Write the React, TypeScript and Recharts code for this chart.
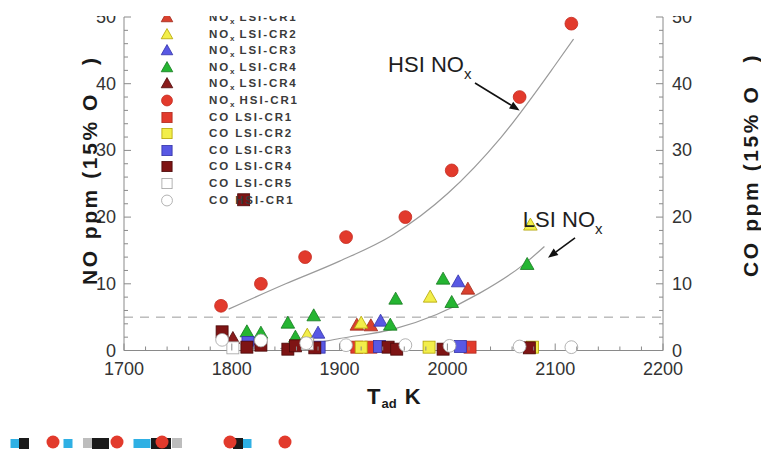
import React from "react";
import { Legend, ReferenceDot, ReferenceLine, Scatter, ScatterChart, XAxis, YAxis } from "recharts";

const FONT = '"Liberation Sans", Arial, Helvetica, sans-serif';
const AXIS_C = "#8a8a8a";
const TXT = "#333";

type Pt = [number, number];

// NOx ppm (15% O2) vs adiabatic flame temperature, K
const NOX_LSI_CR1: Pt[] = [[1916, 3.8], [1929, 3.7], [2019, 9.2]];
const NOX_LSI_CR2: Pt[] = [[1870, 2.3], [1920, 4.1], [1984, 8.0], [2077, 18.8]];
const NOX_LSI_CR3: Pt[] = [[1815, 1.6], [1880, 2.6], [1938, 4.4], [2010, 10.3]];
const NOX_LSI_CR4: Pt[] = [
  [1814, 2.8], [1827, 2.6], [1852, 4.1], [1859, 2.0], [1876, 5.2],
  [1947, 3.8], [1952, 7.7], [1996, 10.7], [2004, 7.2], [2074, 12.9],
];
const NOX_LSI_CR4B: Pt[] = [[1801, 1.8]];
const NOX_HSI_CR1: Pt[] = [[1790, 6.7], [1827, 10], [1868, 14], [1906, 17], [1961, 20], [2004, 27], [2067, 38], [2115, 49]];

// CO ppm (15% O2), right axis
const CO_LSI_CR1: Pt[] = [[1916, 0.5], [1929, 0.5], [2021, 0.5]];
const CO_LSI_CR2: Pt[] = [[1920, 0.5], [1983, 0.5], [2079, 0.5]];
const CO_LSI_CR3: Pt[] = [[1815, 1.2], [1881, 0.5], [1937, 0.6], [2012, 0.6]];
const CO_LSI_CR4: Pt[] = [
  [1791, 2.8], [1811, 22.6], [1814, 0.5], [1827, 0.8], [1852, 0.2], [1859, 0.7],
  [1877, 0.4], [1945, 0.5], [1953, 0.2], [1996, 0.2], [2076, 0.4],
];
const CO_LSI_CR5: Pt[] = [[1801, 0.4], [1870, 1.0]];
const CO_HSI_CR1: Pt[] = [[1791, 1.6], [1827, 1.5], [1869, 1.1], [1906, 0.8], [1961, 0.8], [2002, 0.7], [2067, 0.6], [2115, 0.5]];

// trend curves as drawn in the figure
const HSI_FIT: Pt[] = [[1797, 6.2], [1850, 10.0], [1900, 13.4], [1950, 17.4], [2000, 23.5], [2050, 32.0], [2100, 42.8], [2117, 46.7]];
const LSI_FIT: Pt[] = [[1845, 0.3], [1870, 0.9], [1900, 1.8], [1950, 3.2], [1990, 5.4], [2030, 8.6], [2070, 12.8], [2090, 15.6]];

const X_TICKS = [
  1700, 1720, 1740, 1760, 1780, 1800, 1820, 1840, 1860, 1880, 1900, 1920, 1940,
  1960, 1980, 2000, 2020, 2040, 2060, 2080, 2100, 2120, 2140, 2160, 2180, 2200,
];
const Y_TICKS = [0, 2, 4, 6, 8, 10, 12, 14, 16, 18, 20, 22, 24, 26, 28, 30, 32, 34, 36, 38, 40, 42, 44, 46, 48, 50];

// garbled strip of markers under the figure (x in px)
const STRIP_RED = [53, 117, 162, 230, 285];
const STRIP_BLUE = [15, 68, 138, 146, 247];
const STRIP_BLACK = [24, 97, 104, 156, 166, 238];
const STRIP_GRAY = [88, 177];

const RED = "#e23a2c";
const YEL = "#f2ee4a";
const BLUE = "#5858e4";
const GREEN = "#25b532";
const DARK = "#7e1414";

const xy = (a: readonly Pt[]) => a.map(([x, y]) => ({ x, y }));

type Kind = "tri" | "circ" | "sq";
function mark(kind: Kind, fill: string, stroke: string, cx: number, cy: number, s = 1) {
  if (kind === "tri")
    return (
      <polygon
        points={`${cx},${cy - 7 * s} ${cx + 6.8 * s},${cy + 5 * s} ${cx - 6.8 * s},${cy + 5 * s}`}
        fill={fill}
        stroke={stroke}
        strokeWidth={0.8}
      />
    );
  if (kind === "circ") return <circle cx={cx} cy={cy} r={6.4 * s} fill={fill} stroke={stroke} strokeWidth={0.8} />;
  return <rect x={cx - 6 * s} y={cy - 6 * s} width={12 * s} height={12 * s} fill={fill} stroke={stroke} strokeWidth={0.8} />;
}

type Ser = { pre: string; sub: string; post: string; kind: Kind; fill: string; stroke: string; data: Pt[]; axis: string };
const SERIES: Ser[] = [
  { pre: "NO", sub: "x", post: " LSI-CR1", kind: "tri", fill: "#d9412e", stroke: "#a02a1c", data: NOX_LSI_CR1, axis: "l" },
  { pre: "NO", sub: "x", post: " LSI-CR2", kind: "tri", fill: YEL, stroke: "#b3a300", data: NOX_LSI_CR2, axis: "l" },
  { pre: "NO", sub: "x", post: " LSI-CR3", kind: "tri", fill: BLUE, stroke: "#3232a8", data: NOX_LSI_CR3, axis: "l" },
  { pre: "NO", sub: "x", post: " LSI-CR4", kind: "tri", fill: GREEN, stroke: "#147a1e", data: NOX_LSI_CR4, axis: "l" },
  { pre: "NO", sub: "x", post: " LSI-CR4", kind: "tri", fill: "#8a1c1c", stroke: "#4e0a0a", data: NOX_LSI_CR4B, axis: "l" },
  { pre: "NO", sub: "x", post: " HSI-CR1", kind: "circ", fill: RED, stroke: "#c42a1e", data: NOX_HSI_CR1, axis: "l" },
  { pre: "CO LSI-CR1", sub: "", post: "", kind: "sq", fill: RED, stroke: "#b02a1e", data: CO_LSI_CR1, axis: "r" },
  { pre: "CO LSI-CR2", sub: "", post: "", kind: "sq", fill: YEL, stroke: "#b3a300", data: CO_LSI_CR2, axis: "r" },
  { pre: "CO LSI-CR3", sub: "", post: "", kind: "sq", fill: BLUE, stroke: "#3232a8", data: CO_LSI_CR3, axis: "r" },
  { pre: "CO LSI-CR4", sub: "", post: "", kind: "sq", fill: DARK, stroke: "#4a0808", data: CO_LSI_CR4, axis: "r" },
  { pre: "CO LSI-CR5", sub: "", post: "", kind: "sq", fill: "#fff", stroke: "#a0a0a0", data: CO_LSI_CR5, axis: "r" },
  { pre: "CO HSI-CR1", sub: "", post: "", kind: "circ", fill: "#fff", stroke: "#a0a0a0", data: CO_HSI_CR1, axis: "r" },
];

function LegendBox() {
  return (
    <div style={{ fontFamily: FONT, fontWeight: 700, fontSize: 11.5, letterSpacing: 1.9, color: "#3a3a3a" }}>
      {SERIES.map((s, i) => (
        <div key={i} style={{ display: "flex", alignItems: "center", height: 16.6, whiteSpace: "nowrap" }}>
          <svg width={16} height={16} style={{ marginRight: 34, flex: "none" }}>
            {mark(s.kind, s.fill, s.stroke, 8, 8.5, 0.85)}
          </svg>
          <span>
            {s.pre}
            {s.sub && <span style={{ fontSize: 8, position: "relative", top: 3, letterSpacing: 0 }}>{s.sub}</span>}
            {s.post}
          </span>
        </div>
      ))}
    </div>
  );
}

const numStyle = { fontFamily: FONT, fontSize: 18, fill: TXT };

function LeftTick({ x, y, payload }: any) {
  const major = payload.value % 10 === 0;
  return (
    <g>
      <line x1={x} x2={x + (major ? 7 : 4)} y1={y} y2={y} stroke={AXIS_C} />
      {major && (
        <text x={x - 8} y={y + 6} textAnchor="end" style={numStyle}>
          {payload.value}
        </text>
      )}
    </g>
  );
}

function RightTick({ x, y, payload }: any) {
  const major = payload.value % 10 === 0;
  return (
    <g>
      <line x1={x} x2={x - (major ? 7 : 4)} y1={y} y2={y} stroke={AXIS_C} />
      {major && (
        <text x={x + 9} y={y + 6} textAnchor="start" style={numStyle}>
          {payload.value}
        </text>
      )}
    </g>
  );
}

function BottomTick({ x, y, payload }: any) {
  const major = payload.value % 100 === 0;
  return (
    <g>
      <line x1={x} x2={x} y1={y} y2={y - (major ? 7 : 4)} stroke={AXIS_C} />
      {major && (
        <text x={x} y={y + 24} textAnchor="middle" style={numStyle}>
          {payload.value}
        </text>
      )}
    </g>
  );
}

function Arrow({ x1, y1, x2, y2 }: any) {
  const a = Math.atan2(y2 - y1, x2 - x1);
  const L = 10;
  const W = 4;
  const bx = x2 - L * Math.cos(a);
  const by = y2 - L * Math.sin(a);
  const px = -Math.sin(a) * W;
  const py = Math.cos(a) * W;
  return (
    <g>
      <line x1={x1} y1={y1} x2={bx} y2={by} stroke="#111" strokeWidth={1.6} />
      <polygon points={`${x2},${y2} ${bx + px},${by + py} ${bx - px},${by - py}`} fill="#111" />
    </g>
  );
}

const noteText = (main: string) => (p: any) => (
  <text x={p.cx} y={p.cy} style={{ fontFamily: FONT, fontSize: 22, fill: "#1e1e1e" }}>
    {main}
    <tspan fontSize={15} dy={7}>x</tspan>
  </text>
);

const none = () => <g />;

function Strip() {
  const red = STRIP_RED.map((x) => ({ x, y: 1 }));
  const blue = STRIP_BLUE.map((x) => ({ x, y: 1 }));
  const black = STRIP_BLACK.map((x) => ({ x, y: 1 }));
  const gray = STRIP_GRAY.map((x) => ({ x, y: 1 }));
  return (
    <ScatterChart width={330} height={20} margin={{ top: 0, right: 0, bottom: 0, left: 0 }}>
      <XAxis type="number" dataKey="x" domain={[0, 330]} hide />
      <YAxis type="number" dataKey="y" domain={[0, 2]} hide />
      <Scatter data={gray} isAnimationActive={false} shape={(p: any) => <rect x={p.cx - 5} y={p.cy - 5} width={10} height={10} fill="#bdbdbd" />} />
      <Scatter data={blue} isAnimationActive={false} shape={(p: any) => <rect x={p.cx - 4.5} y={p.cy - 4} width={9} height={9} fill="#2fb0e4" />} />
      <Scatter data={black} isAnimationActive={false} shape={(p: any) => <rect x={p.cx - 5} y={p.cy - 5} width={10} height={11} fill="#1a1a1a" />} />
      <Scatter data={red} isAnimationActive={false} shape={(p: any) => <circle cx={p.cx} cy={p.cy - 1} r={6.5} fill={RED} />} />
    </ScatterChart>
  );
}

const TOP_CUT = 16;

export default function App() {
  const title = { fontFamily: FONT, fontWeight: 700, fontSize: 21, fill: "#1a1a1a", letterSpacing: 2.6 };
  return (
    <div style={{ position: "relative", width: 761, height: 453, background: "#fff", overflow: "hidden" }}>
      <style>{`body{margin:0}`}</style>
      <div style={{ position: "absolute", left: 0, top: TOP_CUT, width: 761, height: 453 - TOP_CUT, overflow: "hidden" }}>
        <ScatterChart
          width={761}
          height={453 - TOP_CUT}
          margin={{ top: 17 - TOP_CUT, right: 58, bottom: 72.5, left: 84 }}
        >
          <XAxis
            type="number"
            dataKey="x"
            domain={[1700, 2200]}
            ticks={X_TICKS}
            interval={0}
            height={30}
            tickSize={0}
            tickMargin={0}
            tickLine={false}
            axisLine={{ stroke: AXIS_C }}
            tick={<BottomTick />}
          />
          <YAxis
            yAxisId="l"
            type="number"
            dataKey="y"
            domain={[0, 50]}
            ticks={Y_TICKS}
            interval={0}
            width={40}
            tickSize={0}
            tickMargin={0}
            tickLine={false}
            axisLine={{ stroke: AXIS_C }}
            tick={<LeftTick />}
          />
          <YAxis
            yAxisId="r"
            orientation="right"
            type="number"
            dataKey="y"
            domain={[0, 50]}
            ticks={Y_TICKS}
            interval={0}
            width={40}
            tickSize={0}
            tickMargin={0}
            tickLine={false}
            axisLine={{ stroke: AXIS_C }}
            tick={<RightTick />}
          />
          <ReferenceLine yAxisId="l" y={5} stroke="#9a9a9a" strokeDasharray="9 7" />
          <Scatter
            yAxisId="l"
            data={xy(HSI_FIT)}
            line={{ stroke: "#9a9a9a", strokeWidth: 1.2 }}
            lineJointType="monotoneX"
            shape={none}
            legendType="none"
            isAnimationActive={false}
          />
          <Scatter
            yAxisId="l"
            data={xy(LSI_FIT)}
            line={{ stroke: "#9a9a9a", strokeWidth: 1.2 }}
            lineJointType="monotoneX"
            shape={none}
            legendType="none"
            isAnimationActive={false}
          />
          {SERIES.map((s, i) => (
            <Scatter
              key={i}
              yAxisId={s.axis}
              data={xy(s.data)}
              isAnimationActive={false}
              shape={(p: any) => mark(s.kind, s.fill, s.stroke, p.cx, p.cy)}
            />
          ))}
          <ReferenceDot yAxisId="l" x={1945} y={41.8} shape={noteText("HSI NO")} />
          <ReferenceDot yAxisId="l" x={2070} y={18.5} shape={noteText("LSI NO")} />
          <ReferenceLine
            yAxisId="l"
            segment={[{ x: 2025.6, y: 40.1 }, { x: 2067, y: 36.0 }]}
            shape={<Arrow />}
          />
          <ReferenceLine
            yAxisId="l"
            segment={[{ x: 2118.4, y: 16.9 }, { x: 2093.3, y: 13.9 }]}
            shape={<Arrow />}
          />
          <Legend
            layout="vertical"
            align="center"
            verticalAlign="middle"
            content={<LegendBox />}
            wrapperStyle={{ left: 159, top: 17 - TOP_CUT - 8.3, width: 200 }}
          />
        </ScatterChart>
      </div>
      <svg width={761} height={453} style={{ position: "absolute", left: 0, top: 0, pointerEvents: "none" }}>
        <text transform="rotate(-90, 97, 285)" x={97} y={285} textAnchor="start" style={title}>
          NO<tspan dx={9}>ppm (15% O</tspan>
          <tspan dx={27}>)</tspan>
        </text>
        <text transform="rotate(-90, 758, 277)" x={758} y={277} textAnchor="start" style={title}>
          CO ppm (15% O<tspan dx={22}>)</tspan>
        </text>
        <text x={367} y={404} style={{ fontFamily: FONT, fontWeight: 700, fontSize: 22, fill: "#1a1a1a" }}>
          T<tspan fontSize={13} dy={4} dx={1}>ad</tspan>
          <tspan dy={-4} dx={8}>K</tspan>
        </text>
      </svg>
      <div style={{ position: "absolute", left: 0, top: 433 }}>
        <Strip />
      </div>
    </div>
  );
}
